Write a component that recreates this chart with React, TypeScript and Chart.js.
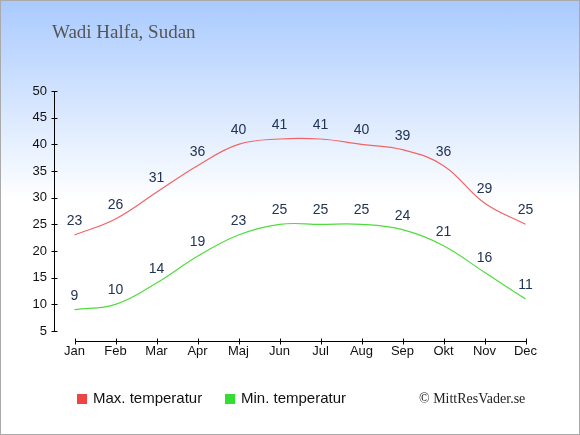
import { useEffect, useRef } from 'react';
import { Chart, registerables, Plugin } from 'chart.js';

Chart.register(...registerables);

const months = ['Jan', 'Feb', 'Mar', 'Apr', 'Maj', 'Jun', 'Jul', 'Aug', 'Sep', 'Okt', 'Nov', 'Dec'];
const maxTemp = [23, 26, 31, 36, 40, 41, 41, 40, 39, 36, 29, 25];
const minTemp = [9, 10, 14, 19, 23, 25, 25, 25, 24, 21, 16, 11];
const yMin = 5;
const yMax = 50;
const yStep = 5;

const title = 'Wadi Halfa, Sudan';
const seriesNames = ['Max. temperatur', 'Min. temperatur'];
const copyright = '\u00A9 MittResVader.se';

const SANS = '"Liberation Sans", Arial, sans-serif';
const SERIF = '"Liberation Serif", "Times New Roman", serif';

// axes, value labels, title, legend and credit are drawn by hand
const decorations: Plugin<'line'> = {
  id: 'decorations',
  afterDraw(chart) {
    const { ctx, chartArea, scales } = chart;
    const x = scales.x;
    const y = scales.y;
    ctx.save();

    // y axis with ticks crossing the line
    ctx.strokeStyle = '#000';
    ctx.lineWidth = 1;
    ctx.beginPath();
    const ax = Math.round(chartArea.left) + 0.5;
    ctx.moveTo(ax, Math.round(y.getPixelForValue(yMax)));
    ctx.lineTo(ax, Math.round(y.getPixelForValue(yMin)) + 1);
    y.ticks.forEach((t) => {
      const py = Math.round(y.getPixelForValue(t.value)) + 0.5;
      ctx.moveTo(ax - 3, py);
      ctx.lineTo(ax + 3, py);
    });

    // x axis sits a little below the lowest y tick
    const base = Math.round(chartArea.bottom) + 10.5;
    ctx.moveTo(Math.round(x.getPixelForValue(0)), base);
    ctx.lineTo(Math.round(x.getPixelForValue(months.length - 1)) + 1, base);
    months.forEach((_, i) => {
      const px = Math.round(x.getPixelForValue(i)) + 0.5;
      ctx.moveTo(px, base - 3);
      ctx.lineTo(px, base + 3);
    });
    ctx.stroke();

    // value labels above points
    ctx.fillStyle = '#223355';
    ctx.font = `14px ${SANS}`;
    ctx.textAlign = 'center';
    ctx.textBaseline = 'middle';
    chart.data.datasets.forEach((ds, i) => {
      const meta = chart.getDatasetMeta(i);
      meta.data.forEach((pt, j) => {
        ctx.fillText(String(ds.data[j]), pt.x, pt.y - 14);
      });
    });

    // title
    ctx.textAlign = 'left';
    ctx.textBaseline = 'alphabetic';
    ctx.fillStyle = '#555555';
    ctx.font = `19px ${SERIF}`;
    ctx.fillText(title, 52, 38);

    // legend
    const legendColors = ['#ee4444', '#33dd33'];
    const legendX = [77, 225];
    ctx.font = `15px ${SANS}`;
    ctx.textBaseline = 'middle';
    seriesNames.forEach((name, i) => {
      ctx.fillStyle = legendColors[i];
      ctx.fillRect(legendX[i], 394, 10, 10);
      ctx.fillStyle = '#111111';
      ctx.fillText(name, legendX[i] + 16, 399);
    });

    // credit
    ctx.fillStyle = '#222222';
    ctx.font = `14px ${SERIF}`;
    ctx.fillText(copyright, 419, 399);

    ctx.restore();
  },
};

const App = () => {
  const canvasRef = useRef<HTMLCanvasElement>(null);
  const chartRef = useRef<Chart | null>(null);

  useEffect(() => {
    if (!canvasRef.current) return;
    if (chartRef.current) chartRef.current.destroy();

    chartRef.current = new Chart(canvasRef.current, {
      type: 'line',
      data: {
        labels: months,
        datasets: [
          {
            label: seriesNames[0],
            data: maxTemp,
            borderColor: '#f06565',
            borderWidth: 1.2,
            pointRadius: 0,
            tension: 0.4,
            fill: false,
          },
          {
            label: seriesNames[1],
            data: minTemp,
            borderColor: '#4fdc3c',
            borderWidth: 1.2,
            pointRadius: 0,
            tension: 0.4,
            fill: false,
          },
        ],
      },
      options: {
        responsive: false,
        animation: false,
        layout: { padding: { left: 20, right: 34, top: 91, bottom: 64 } },
        plugins: {
          legend: { display: false },
          title: { display: false },
          tooltip: { enabled: false },
        },
        scales: {
          x: {
            offset: true,
            grid: { display: false, drawTicks: false },
            border: { display: false },
            ticks: { padding: 13, color: '#111', font: { family: SANS, size: 13 }, maxRotation: 0 },
            afterFit: (scale) => {
              scale.height = 40;
            },
          },
          y: {
            min: yMin,
            max: yMax,
            grid: { display: false, drawTicks: false },
            border: { display: false },
            ticks: { stepSize: yStep, padding: 7, color: '#111', font: { family: SANS, size: 13 } },
            afterFit: (scale) => {
              scale.width = 34;
            },
          },
        },
      },
      plugins: [decorations],
    });

    return () => {
      if (chartRef.current) {
        chartRef.current.destroy();
        chartRef.current = null;
      }
    };
  }, []);

  return (
    <div
      style={{
        position: 'fixed',
        left: 0,
        top: 0,
        width: 580,
        height: 435,
        background: 'linear-gradient(to bottom, #a9cafe 0px, #ffffff 200px, #ffffff 435px)',
        boxShadow: 'inset 0 0 0 1px #aaaaaa',
      }}
    >
      <canvas ref={canvasRef} width={580} height={435} style={{ display: 'block' }} />
    </div>
  );
};

export default App;
